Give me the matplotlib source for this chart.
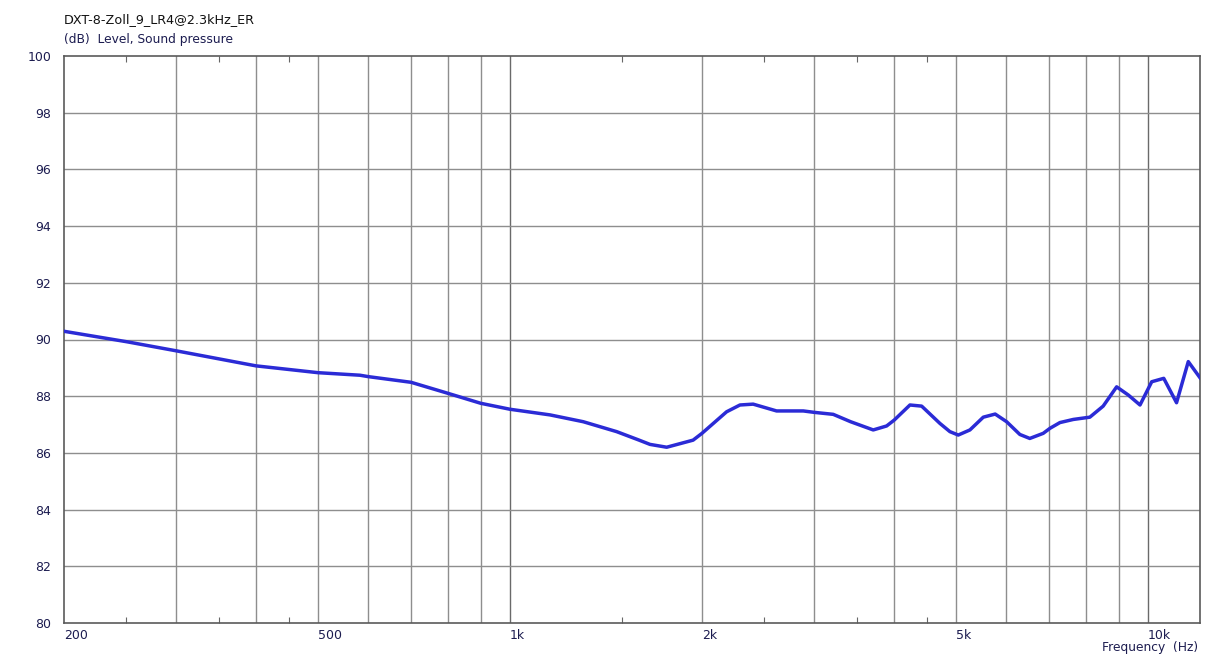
import matplotlib
matplotlib.use("Agg")
import matplotlib.pyplot as plt
from matplotlib.ticker import FixedLocator, NullFormatter

# frequency response (Hz, dB)
freq = [200, 251, 300, 400, 500, 582, 600, 700, 800, 900, 1000, 1156, 1303,
        1470, 1590, 1658, 1761, 1937, 2000, 2186, 2294, 2406, 2618, 2883,
        3000, 3212, 3420, 3711, 3895, 4004, 4237, 4420, 4721, 4894, 5044,
        5261, 5521, 5763, 6006, 6300, 6530, 6854, 7026, 7280, 7640, 8110,
        8510, 8934, 9320, 9720, 10140, 10590, 11090, 11570, 12070]
level = [90.29, 89.92, 89.60, 89.07, 88.83, 88.74, 88.69, 88.49, 88.10, 87.75,
         87.54, 87.34, 87.10, 86.75, 86.46, 86.30, 86.20, 86.45, 86.69, 87.45,
         87.69, 87.72, 87.48, 87.48, 87.43, 87.36, 87.10, 86.81, 86.95, 87.16,
         87.69, 87.65, 87.04, 86.75, 86.63, 86.81, 87.26, 87.37, 87.10, 86.65,
         86.51, 86.69, 86.87, 87.07, 87.18, 87.26, 87.65, 88.33, 88.04, 87.69,
         88.51, 88.63, 87.77, 89.22, 88.65]

grid_freqs = [200, 300, 400, 500, 600, 700, 800, 900, 1000, 2000, 3000, 4000,
              5000, 6000, 7000, 8000, 9000, 10000]
x_labels = {200: "200", 500: "500", 1000: "1k", 2000: "2k", 5000: "5k", 10000: "10k"}
minor_freqs = [250, 350, 450, 1500, 2500, 3500, 4500]
y_ticks = [80, 82, 84, 86, 88, 90, 92, 94, 96, 98, 100]

title = "DXT-8-Zoll_9_LR4@2.3kHz_ER"
ylabel = "(dB)  Level, Sound pressure"
xlabel = "Frequency  (Hz)"

txt = "#1c1c50"
plt.rcParams['font.family'] = ['DejaVu Sans']

fig = plt.figure(figsize=(12.22, 6.58), dpi=100)
ax = fig.add_axes([64 / 1222, 35 / 658, 1136 / 1222, 567 / 658])

ax.plot(freq, level, color="#2b2bd6", lw=2.5, solid_joinstyle="round", zorder=3)

ax.set_xscale("log")
ax.set_xlim(200, 12070)
ax.set_ylim(80, 100)

ax.xaxis.set_major_locator(FixedLocator(grid_freqs))
ax.set_xticklabels([x_labels.get(f, "") for f in grid_freqs])
ax.xaxis.set_minor_locator(FixedLocator(minor_freqs))
ax.xaxis.set_minor_formatter(NullFormatter())
ax.set_yticks(y_ticks)

ax.tick_params(axis="x", which="major", length=0, pad=4, labelsize=9, labelcolor=txt)
ax.tick_params(axis="x", which="minor", direction="in", length=4, top=True,
               color="#666666", width=0.8)
ax.tick_params(axis="y", which="major", length=0, pad=9, labelsize=9, labelcolor=txt)
for lab in ax.get_xticklabels():
    lab.set_horizontalalignment("left")

for f in grid_freqs[1:]:
    c = "#6a6a6a" if f in (1000, 10000) else "#8e8e8e"
    ax.axvline(f, color=c, lw=1.0, zorder=1)
for v in y_ticks[1:-1]:
    ax.axhline(v, color="#8e8e8e", lw=1.0, zorder=1)

for s in ax.spines.values():
    s.set_color("#5a5a5a")
    s.set_linewidth(1.2)

fig.text(64 / 1222, 1 - 20 / 658, title, fontsize=9.2, color="#111111", va="center", ha="left")
fig.text(64 / 1222, 1 - 39 / 658, ylabel, fontsize=8.8, color=txt, va="center", ha="left")
fig.text(1198 / 1222, 1 - 647 / 658, xlabel, fontsize=8.8, color=txt, va="center", ha="right")

fig.savefig("out.png", dpi=100, facecolor="white")
